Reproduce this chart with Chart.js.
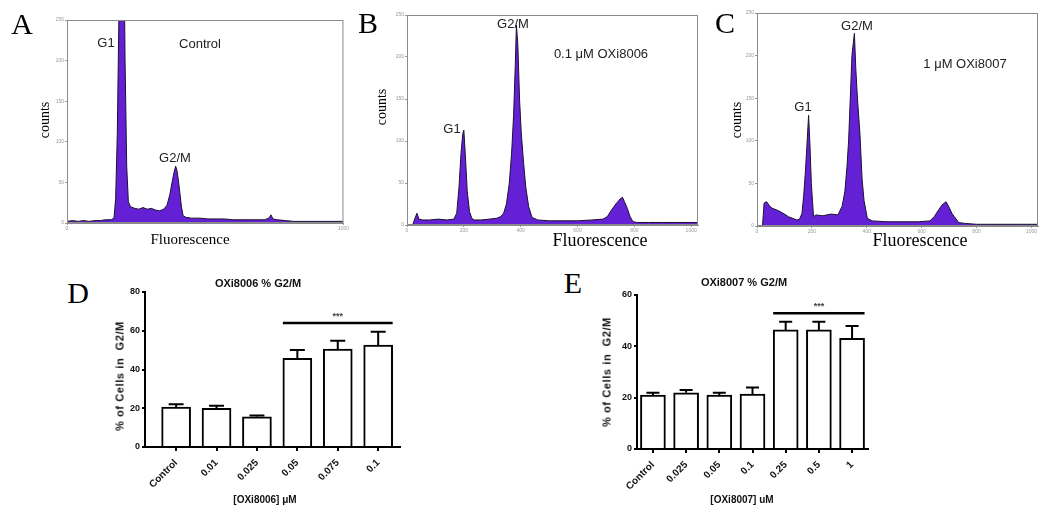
<!DOCTYPE html>
<html>
<head>
<meta charset="utf-8">
<script src="https://cdn.jsdelivr.net/npm/chart.js@4.4.1/dist/chart.umd.min.js"></script>
<style>
body { margin: 0; background: #fff; }
#fig { position: relative; width: 1050px; height: 517px; overflow: hidden; background: #fff; }
canvas { position: absolute; }
.t { position: absolute; transform: translate(-50%, -50%); white-space: nowrap; color: #000; line-height: 1; }
.letter { font-family: "Liberation Serif", serif; font-size: 30px; }
.lbl { font-family: "Liberation Sans", Arial, sans-serif; font-size: 13px; color: #222; }
.serif { font-family: "Liberation Serif", serif; }
.pr { font-family: "Liberation Sans", Arial, sans-serif; font-weight: bold; font-size: 10px; color: #111; }
.rot { transform: translate(-50%, -50%) rotate(-90deg); }
</style>
</head>
<body>
<div id="fig">
  <canvas id="histA" width="350" height="250" style="left:0;top:0"></canvas>
  <canvas id="histB" width="350" height="250" style="left:350px;top:0"></canvas>
  <canvas id="histC" width="350" height="250" style="left:700px;top:0"></canvas>
  <canvas id="barD" width="310" height="237" style="left:100px;top:280px"></canvas>
  <canvas id="barE" width="290" height="237" style="left:590px;top:280px"></canvas>

  <div class="t letter" style="left:22px;top:24px">A</div>
  <div class="t letter" style="left:368px;top:23px">B</div>
  <div class="t letter" style="left:725px;top:23px">C</div>
  <div class="t letter" style="left:78px;top:293px">D</div>
  <div class="t letter" style="left:573px;top:283px">E</div>

  <!-- labels inside the histograms -->
  <div class="t lbl" style="left:106px;top:42px">G1</div>
  <div class="t lbl" style="left:200px;top:43px">Control</div>
  <div class="t lbl" style="left:175px;top:157px">G2/M</div>
  <div class="t lbl" style="left:513px;top:23px">G2/M</div>
  <div class="t lbl" style="left:601px;top:53px">0.1 μM OXi8006</div>
  <div class="t lbl" style="left:452px;top:128px">G1</div>
  <div class="t lbl" style="left:857px;top:25px">G2/M</div>
  <div class="t lbl" style="left:965px;top:63px">1 μM OXi8007</div>
  <div class="t lbl" style="left:803px;top:106px">G1</div>

  <div class="t serif rot" style="left:45px;top:120px;font-size:14px">counts</div>
  <div class="t serif rot" style="left:382px;top:107px;font-size:14px">counts</div>
  <div class="t serif rot" style="left:737px;top:120px;font-size:14px">counts</div>
  <div class="t serif" style="left:190px;top:239px;font-size:15px">Fluorescence</div>
  <div class="t serif" style="left:600px;top:240px;font-size:18px">Fluorescence</div>
  <div class="t serif" style="left:920px;top:240px;font-size:18px">Fluorescence</div>

  <!-- bar chart titles -->
  <div class="t pr" style="left:258px;top:283px;font-size:11px">OXi8006 % G2/M</div>
  <div class="t pr" style="left:744px;top:282px;font-size:11px">OXi8007 % G2/M</div>
  <div class="t pr rot" style="left:120px;top:376px;font-size:11px;letter-spacing:0.6px">% of Cells in&nbsp; G2/M</div>
  <div class="t pr rot" style="left:607px;top:372px;font-size:11px;letter-spacing:0.6px">% of Cells in&nbsp; G2/M</div>
  <div class="t pr" style="left:265px;top:500px">[OXi8006] μM</div>
  <div class="t pr" style="left:742px;top:500px">[OXi8007] uM</div>
</div>

<script>
/* histogram A: control */
var chA = [0, 20, 40, 60, 80, 100, 120, 140, 160, 170, 176, 182, 188, 194, 199, 204, 210, 216, 222, 230,
  245, 260, 275, 290, 305, 320, 335, 350, 362, 372, 380, 387, 393, 397, 402, 408, 414, 420, 430, 450,
  480, 510, 540, 570, 600, 630, 660, 690, 715, 730, 738, 745, 760, 790, 820, 850, 880, 910, 940, 970, 1000];
var cntA = [2, 3, 2, 3, 2, 3, 3, 4, 4, 6, 30, 110, 260, 520, 700, 420, 200, 70, 26, 20,
  18, 17, 19, 17, 18, 16, 15, 17, 22, 35, 50, 62, 70, 66, 55, 38, 20, 9, 7, 6,
  6, 5, 5, 5, 4, 4, 4, 4, 4, 6, 10, 5, 4, 3, 2, 2, 2, 2, 2, 2, 2];

/* histogram B: 0.1 uM OXi8006 */
var chB = [0, 20, 28, 35, 42, 55, 80, 110, 140, 165, 175, 183, 190, 196, 200, 205, 212, 220, 228, 236,
  260, 290, 315, 330, 340, 350, 360, 368, 375, 381, 385, 390, 396, 402, 410, 418, 428, 440, 460, 500,
  550, 600, 650, 690, 705, 720, 735, 750, 758, 765, 775, 785, 795, 810, 850, 900, 950, 1000, 1024];
var cntB = [0, 0, 8, 14, 7, 6, 6, 7, 6, 7, 14, 45, 85, 108, 113, 85, 40, 16, 8, 6,
  6, 7, 8, 10, 14, 25, 50, 85, 130, 190, 238, 215, 150, 110, 75, 45, 22, 9, 6, 5,
  5, 5, 6, 7, 10, 18, 25, 31, 33, 28, 20, 10, 4, 3, 3, 3, 3, 3, 3];

/* histogram C: 1 uM OXi8007 */
var chC = [0, 20, 26, 35, 45, 54, 70, 84, 100, 114, 130, 145, 155, 164, 170, 176, 182, 188, 193, 198,
  206, 215, 240, 270, 295, 310, 320, 328, 334, 340, 346, 351, 355, 360, 366, 375, 383, 390, 402, 420,
  470, 530, 590, 630, 646, 660, 675, 689, 700, 710, 719, 735, 760, 800, 850, 900, 950, 1000, 1024];
var cntC = [0, 0, 27, 28.5, 24, 21, 19, 17, 14, 11, 9, 7, 8, 15, 35, 62, 95, 130, 95, 50,
  11, 13, 12, 14, 13, 23, 40, 70, 101, 150, 200, 215, 226, 185, 150, 109, 55, 30, 9, 6,
  5, 5, 5, 6, 11, 18, 25, 28.5, 22, 15, 11, 4, 3, 2, 2, 2, 2, 2, 2];

/* channel ticks on the histogram x axes */
var ticksA = [0, 1000];
var ticksBC = [0, 200, 400, 600, 800, 1000];

/* bar chart D: OXi8006 */
var concD = ['Control', '0.01', '0.025', '0.05', '0.075', '0.1'];
var meanD = [20.6, 20.0, 15.6, 45.8, 50.6, 52.6];
var semD = [1.5, 1.3, 0.6, 4.3, 4.3, 6.9];
var sigD = [3, 5, 64];   // first bar, last bar, level of the *** line

/* bar chart E: OXi8007 */
var concE = ['Control', '0.025', '0.05', '0.1', '0.25', '0.5', '1'];
var meanE = [21.0, 21.9, 21.0, 21.4, 46.4, 46.4, 43.1];
var semE = [0.9, 1.1, 0.9, 2.6, 3.2, 3.2, 4.8];
var sigE = [4, 6, 52.9];

Chart.defaults.animation = false;
Chart.defaults.font.family = '"Liberation Sans", Arial, sans-serif';
Chart.defaults.plugins.legend.display = false;
Chart.defaults.plugins.tooltip.enabled = false;

/* grey box round the histogram plots */
var frame = {
  id: 'frame',
  afterDraw: function(chart) {
    var a = chart.chartArea, ctx = chart.ctx;
    ctx.save();
    ctx.strokeStyle = '#8a8a8a';
    ctx.lineWidth = 1;
    ctx.strokeRect(a.left + 0.5, a.top + 0.5, a.right - a.left - 1, a.bottom - a.top - 1);
    ctx.restore();
  }
};

function histo(id, ch, cnt, o) {
  return new Chart(document.getElementById(id), {
    type: 'line',
    data: {
      datasets: [{
        data: ch.map(function(x, i) { return {x: x, y: cnt[i]}; }),
        fill: 'origin',
        backgroundColor: '#6420d4',
        borderColor: '#1d1033',
        borderWidth: 1,
        pointRadius: 0,
        tension: 0
      }]
    },
    options: {
      responsive: false,
      layout: { padding: o.pad },
      scales: {
        x: {
          type: 'linear', min: 0, max: o.xMax,
          ticks: { font: { size: 5 }, color: '#999', padding: 1, maxRotation: 0,
            callback: function(v) { return String(v); } },
          grid: { drawOnChartArea: false, tickLength: 2, color: '#999' },
          border: { color: '#8a8a8a' },
          afterBuildTicks: function(s) { s.ticks = o.xTicks.map(function(v) { return {value: v}; }); },
          afterFit: function(s) { s.height = o.xh; }
        },
        y: {
          min: 0, max: 250,
          ticks: { stepSize: 50, font: { size: 5 }, color: '#999', padding: 1 },
          grid: { drawOnChartArea: false, tickLength: 2, color: '#999' },
          border: { color: '#8a8a8a' },
          afterFit: function(s) { s.width = o.yw; }
        }
      }
    },
    plugins: [frame]
  });
}

histo('histA', chA, cntA, { pad: {top: 20, right: 6}, xMax: 1000, xTicks: ticksA, xh: 27, yw: 67 });
histo('histB', chB, cntB, { pad: {top: 15, right: 2}, xMax: 1024, xTicks: ticksBC, xh: 25, yw: 57 });
histo('histC', chC, cntC, { pad: {top: 13, right: 12}, xMax: 1024, xTicks: ticksBC, xh: 24, yw: 57 });

/* error bars (up only, Prism style) and the *** line */
function errorBars(mean, sem, sig, cap) {
  return {
    id: 'errorBars',
    afterDatasetsDraw: function(chart) {
      var ctx = chart.ctx, ys = chart.scales.y;
      var bars = chart.getDatasetMeta(0).data;
      ctx.save();
      ctx.strokeStyle = '#000';
      ctx.lineWidth = 2;
      bars.forEach(function(bar, i) {
        var top = ys.getPixelForValue(mean[i] + sem[i]);
        ctx.beginPath();
        ctx.moveTo(bar.x, bar.y);
        ctx.lineTo(bar.x, top);
        ctx.moveTo(bar.x - cap / 2, top);
        ctx.lineTo(bar.x + cap / 2, top);
        ctx.stroke();
      });
      var a = bars[sig[0]], b = bars[sig[1]];
      var y = ys.getPixelForValue(sig[2]);
      ctx.lineWidth = 2.5;
      ctx.beginPath();
      ctx.moveTo(a.x - a.width / 2, y);
      ctx.lineTo(b.x + b.width / 2, y);
      ctx.stroke();
      ctx.fillStyle = '#444';
      ctx.font = 'bold 9px "Liberation Sans", Arial, sans-serif';
      ctx.textAlign = 'center';
      ctx.textBaseline = 'bottom';
      ctx.fillText('***', (a.x + b.x) / 2, y - 2);
      ctx.restore();
    }
  };
}

function prism(id, labels, mean, sem, sig, o) {
  return new Chart(document.getElementById(id), {
    type: 'bar',
    data: {
      datasets: [{
        data: labels.map(function(l, i) { return {x: i, y: mean[i]}; }),
        backgroundColor: '#fff',
        borderColor: '#000',
        borderWidth: 2,
        barThickness: o.bw
      }]
    },
    options: {
      responsive: false,
      layout: { padding: o.pad },
      scales: {
        x: {
          type: 'linear', min: o.xMin, max: o.xMax, offset: false,
          ticks: {
            stepSize: 1, includeBounds: false, autoSkip: false,
            minRotation: 45, maxRotation: 45,
            color: '#111', font: { size: 10, weight: 'bold' }, padding: 6,
            callback: function(v) { return Number.isInteger(v) ? labels[v] : ''; }
          },
          grid: { offset: false, drawOnChartArea: false, tickLength: 4, color: '#000', lineWidth: 2 },
          border: { color: '#000', width: 2 },
          afterFit: function(s) { s.height = o.xh; }
        },
        y: {
          min: 0, max: o.yMax,
          ticks: { stepSize: 20, color: '#111', font: { size: 9, weight: 'bold' }, padding: 2 },
          grid: { drawOnChartArea: false, tickLength: 3, color: '#000', lineWidth: 2 },
          border: { color: '#000', width: 2 },
          afterFit: function(s) { s.width = o.yw; }
        }
      }
    },
    plugins: [errorBars(mean, sem, sig, o.cap)]
  });
}

prism('barD', concD, meanD, semD, sigD, { pad: {top: 12, right: 10}, xMin: -0.77, xMax: 5.54, yMax: 80, bw: 29, cap: 15, xh: 70, yw: 45 });
prism('barE', concE, meanE, semE, sigE, { pad: {top: 15, right: 12}, xMin: -0.48, xMax: 6.48, yMax: 60, bw: 25, cap: 13, xh: 68, yw: 47 });
</script>
</body>
</html>
